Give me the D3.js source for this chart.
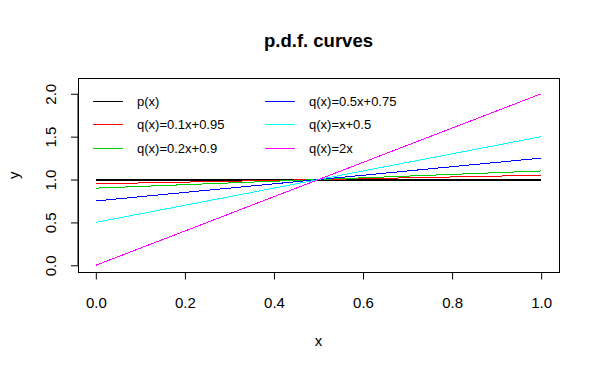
<!DOCTYPE html>
<html>
<head>
<meta charset="utf-8">
<script src="https://cdn.jsdelivr.net/npm/d3@7"></script>
<style>
  body { margin: 0; background: #fff; }
  svg text { font-family: "Liberation Sans", Arial, sans-serif; fill: #000; }
</style>
</head>
<body>
<svg id="chart" width="600" height="371"></svg>
<script>
// values
const xValues = [0, 1];
const seriesNames = ['p(x)', 'q(x)=0.1x+0.95', 'q(x)=0.2x+0.9', 'q(x)=0.5x+0.75', 'q(x)=x+0.5', 'q(x)=2x'];
const seriesValues = [
  [1, 1],
  [0.95, 1.05],
  [0.9, 1.1],
  [0.75, 1.25],
  [0.5, 1.5],
  [0, 2]
];
const seriesColors = ['#000000', '#ff0000', '#00cd00', '#0000ff', '#00ffff', '#ff00ff'];
const xTicks = [0, 0.2, 0.4, 0.6, 0.8, 1.0];
const yTicks = [0, 0.5, 1.0, 1.5, 2.0];

const svg = d3.select('#chart');
const box = {left: 78, right: 559, top: 78, bottom: 272.5};

// R style 4% padding around xlim c(0,1) and ylim c(0,2.1)
const x = d3.scaleLinear().domain([-0.04, 1.04]).range([box.left, box.right]);
const y = d3.scaleLinear().domain([-0.084, 2.184]).range([box.bottom, box.top]);

// series lines
const line = d3.line()
  .x((d, i) => x(xValues[i]))
  .y(d => y(d));

seriesValues.forEach(function(vals, i){
  svg.append('path')
    .datum(vals)
    .attr('d', line)
    .attr('fill', 'none')
    .attr('stroke', seriesColors[i])
    .attr('stroke-width', i === 0 ? 2 : 1)
    .attr('shape-rendering', 'crispEdges');
});

// plot box
svg.append('rect')
  .attr('x', box.left).attr('y', box.top)
  .attr('width', box.right - box.left).attr('height', box.bottom - box.top)
  .attr('fill', 'none').attr('stroke', '#000').attr('stroke-width', 1)
  .attr('shape-rendering', 'crispEdges');

// axes
const xAxis = svg.append('g')
  .attr('transform', `translate(0,${box.bottom})`)
  .call(d3.axisBottom(x).tickValues(xTicks).tickFormat(d3.format('.1f')).tickSize(7).tickPadding(18));
xAxis.select('.domain').attr('d', `M${x(0)},0H${x(1)}`);

const yAxis = svg.append('g')
  .attr('transform', `translate(${box.left},0)`)
  .call(d3.axisLeft(y).tickValues(yTicks).tickFormat(d3.format('.1f')).tickSize(7));
yAxis.select('.domain').attr('d', `M0,${y(0)}V${y(2)}`);

svg.selectAll('.tick line').attr('stroke', '#000');
svg.selectAll('.domain').attr('stroke', '#000');
svg.selectAll('.tick text')
  .attr('font-size', 15)
  .attr('font-family', '"Liberation Sans", Arial, sans-serif')
  .attr('fill', '#000');

yAxis.selectAll('.tick text')
  .attr('x', 0)
  .attr('dy', null)
  .attr('text-anchor', 'middle')
  .attr('dominant-baseline', 'central')
  .attr('transform', 'translate(-28,0) rotate(-90)');

// titles
svg.append('text')
  .attr('x', (box.left + box.right) / 2).attr('y', 47)
  .attr('text-anchor', 'middle')
  .attr('font-size', 18.5).attr('font-weight', 'bold')
  .text('p.d.f. curves');

svg.append('text')
  .attr('x', (box.left + box.right) / 2).attr('y', 346)
  .attr('text-anchor', 'middle')
  .attr('font-size', 15)
  .text('x');

svg.append('text')
  .attr('transform', `translate(19,${(box.top + box.bottom) / 2}) rotate(-90)`)
  .attr('text-anchor', 'middle')
  .attr('font-size', 15)
  .text('y');

// legend, two columns of three
const legend = svg.append('g');
seriesNames.forEach(function(name, i){
  const col = Math.floor(i / 3), row = i % 3;
  const lx = 93 + col * 172, ly = 101.5 + row * 23.3;
  legend.append('line')
    .attr('x1', lx).attr('x2', lx + 30)
    .attr('y1', ly).attr('y2', ly)
    .attr('stroke', seriesColors[i]).attr('stroke-width', 1)
    .attr('shape-rendering', 'crispEdges');
  legend.append('text')
    .attr('x', lx + 44).attr('y', ly)
    .attr('dominant-baseline', 'central')
    .attr('font-size', 13)
    .text(name);
});
</script>
</body>
</html>
